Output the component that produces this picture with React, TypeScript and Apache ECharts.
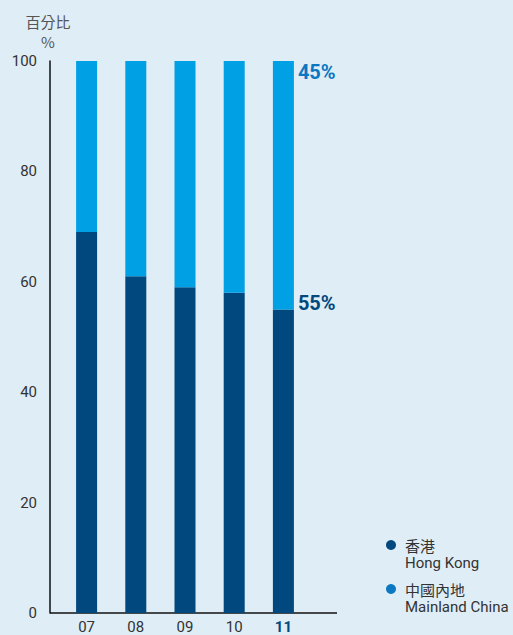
import React, { useEffect, useRef } from "react";
import * as echarts from "echarts";

const years = ["07", "08", "09", "10", "11"];
const hongKong = [69, 61, 59, 58, 55];
const mainland = [31, 39, 41, 42, 45];
const yTicks = [0, 20, 40, 60, 80, 100];

const DARK = "#00487e";
const LIGHT = "#00a0e4";
const MID = "#0b78c1";
const BG = "#dfedf7";
const SANS = "Roboto, Arial, sans-serif";
const CJK = "'Noto Sans CJK TC', 'Noto Sans', sans-serif";

export default function App() {
  const ref = useRef<HTMLDivElement>(null);
  useEffect(() => {
    const chart = echarts.init(ref.current!, null, { renderer: "svg" });
    const last = years.length - 1;
    chart.setOption({
      animation: false,
      backgroundColor: BG,
      grid: { left: 62, right: 205, top: 61, bottom: 22, containLabel: false },
      xAxis: {
        type: "category",
        data: years,
        axisLine: { show: false },
        axisTick: { show: false },
        axisLabel: {
          interval: 0,
          hideOverlap: false,
          margin: 6,
          fontSize: 15,
          fontFamily: SANS,
          color: "#333",
          formatter: (v: string, i: number) => (i === last ? `{b|${v}}` : v),
          rich: { b: { fontSize: 15, fontWeight: "bold", color: DARK, fontFamily: SANS } },
        },
      },
      yAxis: {
        type: "value",
        min: yTicks[0],
        max: yTicks[yTicks.length - 1],
        interval: 20,
        offset: 12,
        name: "百分比\n%",
        nameLocation: "end",
        nameGap: 10,
        nameTextStyle: {
          align: "center",
          fontSize: 15,
          lineHeight: 20,
          color: "#555",
          fontFamily: CJK,
          padding: [0, 4, 0, 0],
        },
        splitLine: { show: false },
        axisTick: { show: false },
        axisLine: { show: true, lineStyle: { color: "#111", width: 1.5 } },
        axisLabel: { margin: 13, fontSize: 15, color: "#333", fontFamily: SANS },
      },
      series: [
        {
          name: "香港",
          type: "bar",
          stack: "s",
          barWidth: 21,
          itemStyle: { color: DARK },
          data: hongKong.map((v, i) => ({
            value: v,
            label:
              i === last
                ? {
                    show: true,
                    position: ["100%", -6],
                    align: "left",
                    verticalAlign: "middle",
                    offset: [4, 0],
                    formatter: "{c}%",
                    fontSize: 20,
                    fontWeight: "bold",
                    color: DARK,
                    fontFamily: SANS,
                  }
                : { show: false },
          })),
        },
        {
          name: "中國內地",
          type: "bar",
          stack: "s",
          barWidth: 21,
          itemStyle: { color: LIGHT },
          data: mainland.map((v, i) => ({
            value: v,
            label:
              i === last
                ? {
                    show: true,
                    position: ["100%", 11],
                    align: "left",
                    verticalAlign: "middle",
                    offset: [4, 0],
                    formatter: "{c}%",
                    fontSize: 20,
                    fontWeight: "bold",
                    color: MID,
                    fontFamily: SANS,
                  }
                : { show: false },
          })),
        },
      ],
      graphic: [
        { type: "line", shape: { x1: 50, y1: 613, x2: 337, y2: 613 }, style: { stroke: "#111", lineWidth: 1.5 } },
        { type: "circle", shape: { cx: 391, cy: 545, r: 5 }, style: { fill: DARK } },
        { type: "text", x: 405, y: 545, style: { text: "香港", fontSize: 15, fill: "#333", verticalAlign: "middle", fontFamily: CJK } },
        { type: "text", x: 405, y: 563, style: { text: "Hong Kong", fontSize: 15, fill: "#333", verticalAlign: "middle", fontFamily: SANS } },
        { type: "circle", shape: { cx: 391, cy: 589, r: 5 }, style: { fill: MID } },
        { type: "text", x: 405, y: 589, style: { text: "中國內地", fontSize: 15, fill: "#333", verticalAlign: "middle", fontFamily: CJK } },
        { type: "text", x: 405, y: 607, style: { text: "Mainland China", fontSize: 15, fill: "#333", verticalAlign: "middle", fontFamily: SANS } },
      ],
    });
    return () => chart.dispose();
  }, []);
  return <div ref={ref} style={{ width: 513, height: 635, position: "fixed", left: 0, top: 0 }} />;
}
